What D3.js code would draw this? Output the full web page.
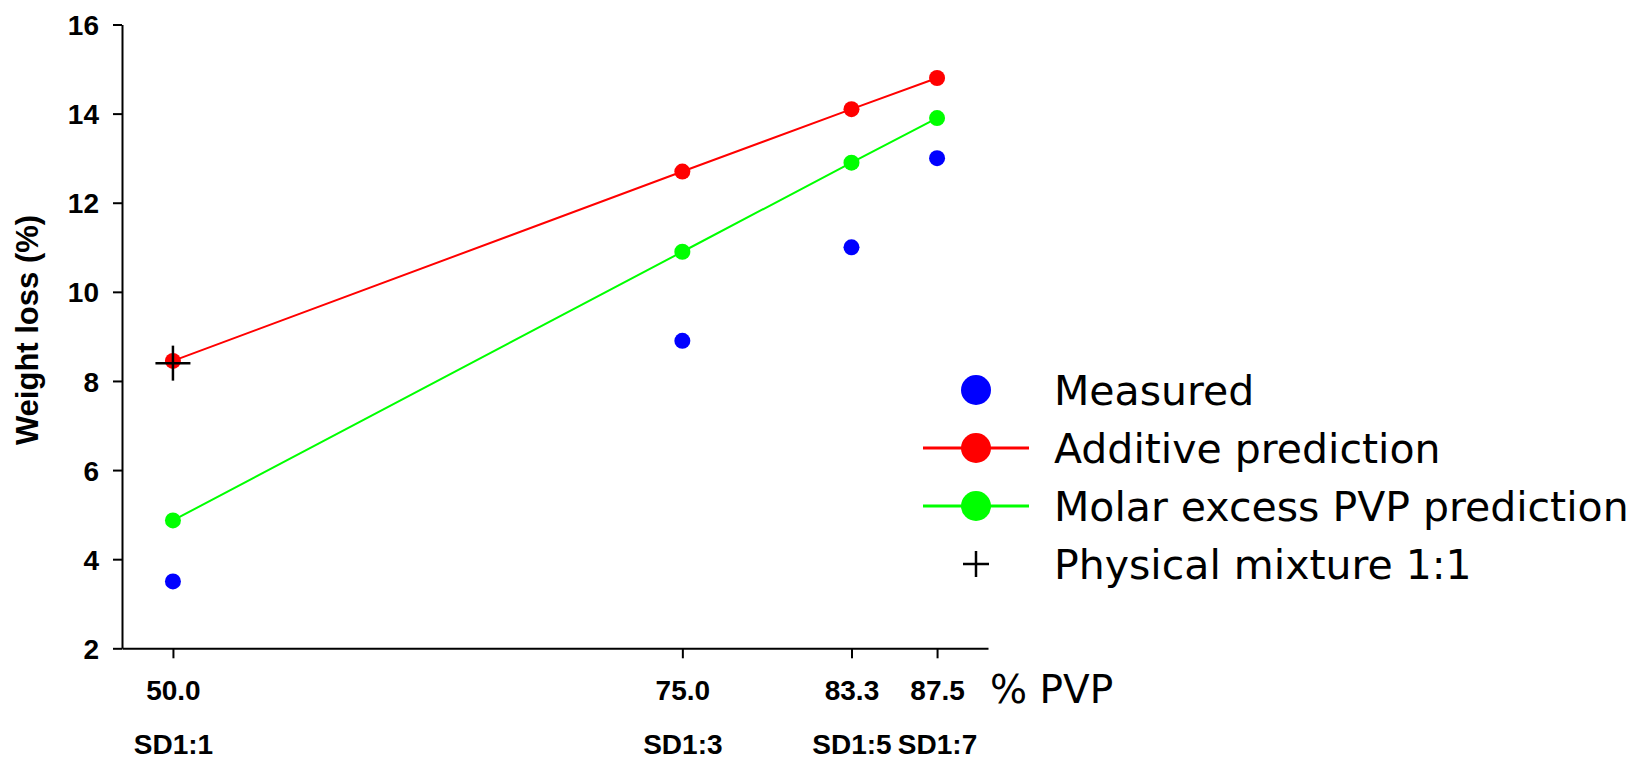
<!DOCTYPE html>
<html>
<head>
<meta charset="utf-8">
<script src="https://cdnjs.cloudflare.com/ajax/libs/d3/7.8.5/d3.min.js"></script>
<style>
  html, body { margin: 0; padding: 0; background: #fff; }
  .tick-label { font-family: "Liberation Sans", Arial, sans-serif; font-weight: bold; font-size: 28px; fill: #000; }
  .legend-label { font-family: "DejaVu Sans", Verdana, sans-serif; font-size: 41px; fill: #000; }
</style>
</head>
<body>
<script>
// values
const pvp = [50.0, 75.0, 83.3, 87.5];
const ratioLabels = ['SD1:1', 'SD1:3', 'SD1:5', 'SD1:7'];
const measured = [3.5, 8.9, 11.0, 13.0];
const additive = [8.45, 12.7, 14.1, 14.8];
const molarExcess = [4.87, 10.9, 12.9, 13.9];
const physicalMixture = [8.4]; // at 50.0 % PVP
const yTicks = [2, 4, 6, 8, 10, 12, 14, 16];

const width = 1652;
const height = 759;
const plotLeft = 122, plotRight = 988, plotTop = 24.5, plotBottom = 648.3;

const x = d3.scaleLinear().domain([47.5, 90]).range([plotLeft, plotRight]);
const y = d3.scaleLinear().domain([2, 16]).range([plotBottom, plotTop]);

const svg = d3.select('body').append('svg')
  .attr('width', width)
  .attr('height', height)
  .attr('viewBox', '0 0 ' + width + ' ' + height);

// y axis
var yAxis = svg.append('g')
  .attr('transform', 'translate(' + plotLeft + ',0)')
  .call(d3.axisLeft(y).tickValues(yTicks).tickSize(9).tickSizeOuter(0).tickPadding(14));
yAxis.select('.domain').attr('stroke-width', 2);
yAxis.selectAll('.tick line').attr('stroke-width', 2);
yAxis.selectAll('.tick text')
  .attr('class', 'tick-label')
  .attr('dy', '0.36em');

// x axis, two label rows: % PVP and ratio
var xAxis = svg.append('g')
  .attr('transform', 'translate(0,' + plotBottom + ')')
  .call(d3.axisBottom(x).tickValues(pvp).tickSize(10).tickSizeOuter(0).tickFormat(d3.format('.1f')));
xAxis.select('.domain').attr('stroke-width', 2);
xAxis.selectAll('.tick line').attr('stroke-width', 2);
xAxis.selectAll('.tick text')
  .attr('class', 'tick-label')
  .attr('y', 52)
  .attr('dy', null);
xAxis.selectAll('.tick').append('text')
  .attr('class', 'tick-label')
  .attr('text-anchor', 'middle')
  .attr('y', 106)
  .text(function(d, i) { return ratioLabels[i]; });

svg.append('text')
  .attr('class', 'legend-label')
  .style('font-size', '39px')
  .attr('x', 990)
  .attr('y', 703)
  .text('% PVP');

// y title
svg.append('text')
  .attr('class', 'tick-label')
  .style('font-size', '31px')
  .attr('text-anchor', 'middle')
  .attr('transform', 'translate(38,330) rotate(-90)')
  .text('Weight loss (%)');

// series
var line = d3.line()
  .x(function(d, i) { return x(pvp[i]); })
  .y(function(d) { return y(d); });

svg.append('path').datum(additive)
  .attr('fill', 'none').attr('stroke', '#ff0000').attr('stroke-width', 2)
  .attr('d', line);
svg.append('path').datum(molarExcess)
  .attr('fill', 'none').attr('stroke', '#00ff00').attr('stroke-width', 2)
  .attr('d', line);

function dots(values, color) {
  svg.append('g').selectAll('circle')
    .data(values)
    .enter().append('circle')
    .attr('cx', function(d, i) { return x(pvp[i]); })
    .attr('cy', function(d) { return y(d); })
    .attr('r', 8)
    .attr('fill', color);
}
dots(measured, '#0000ff');
dots(additive, '#ff0000');
dots(molarExcess, '#00ff00');

function plus(g, cx, cy, size) {
  g.append('line').attr('x1', cx - size / 2).attr('x2', cx + size / 2)
    .attr('y1', cy).attr('y2', cy);
  g.append('line').attr('x1', cx).attr('x2', cx)
    .attr('y1', cy - size / 2).attr('y2', cy + size / 2);
}

var mix = svg.append('g').attr('stroke', '#000').attr('stroke-width', 2.5);
physicalMixture.forEach(function(d, i) {
  plus(mix, x(pvp[i]), y(d), 35);
});

// legend
var legendItems = [
  {label: 'Measured', color: '#0000ff', line: false, marker: 'dot'},
  {label: 'Additive prediction', color: '#ff0000', line: true, marker: 'dot'},
  {label: 'Molar excess PVP prediction', color: '#00ff00', line: true, marker: 'dot'},
  {label: 'Physical mixture 1:1', color: '#000', line: false, marker: 'plus'}
];

var legend = svg.append('g').attr('transform', 'translate(976,390)');
legendItems.forEach(function(item, i) {
  var row = legend.append('g').attr('transform', 'translate(0,' + (i * 58) + ')');
  if (item.line) {
    row.append('line')
      .attr('x1', -53).attr('x2', 53)
      .attr('stroke', item.color).attr('stroke-width', 3);
  }
  if (item.marker === 'dot') {
    row.append('circle').attr('r', 15).attr('fill', item.color);
  } else {
    var p = row.append('g').attr('stroke', '#000').attr('stroke-width', 2.5);
    plus(p, 0, 0, 26);
  }
  row.append('text')
    .attr('class', 'legend-label')
    .attr('x', 78)
    .attr('y', 15)
    .text(item.label);
});
</script>
</body>
</html>
